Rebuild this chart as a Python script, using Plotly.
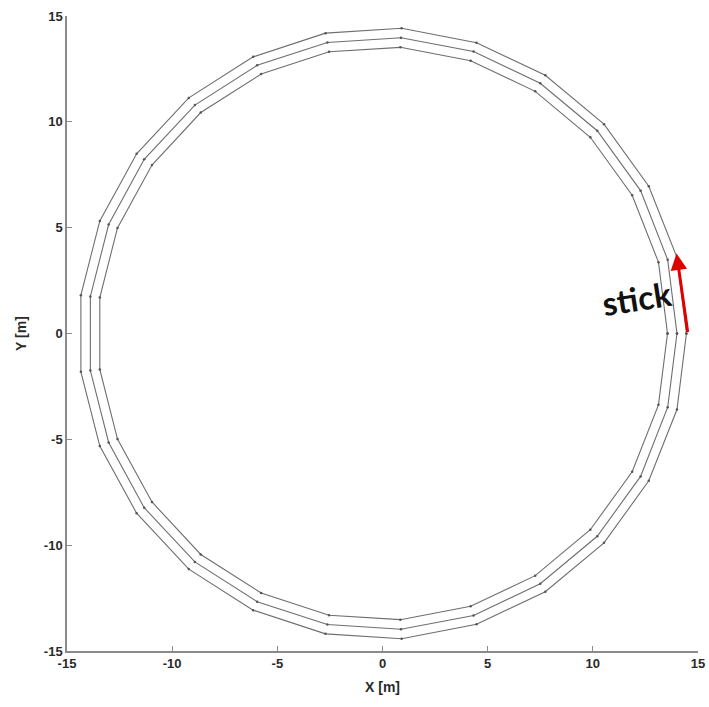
import plotly.graph_objects as go

# Track outline: 25-vertex rings (inner edge, centre line, outer edge), closed
inner_x = [13.55, 13.12, 11.87, 9.88, 7.26, 4.19, 0.85, -2.54, -5.77, -8.64, -10.96, -12.60, -13.44,
           -13.44, -12.60, -10.96, -8.64, -5.77, -2.54, 0.85, 4.19, 7.26, 9.88, 11.87, 13.12, 13.55]
inner_y = [0.00, 3.37, 6.53, 9.27, 11.44, 12.89, 13.52, 13.31, 12.26, 10.44, 7.96, 4.99, 1.70,
           -1.70, -4.99, -7.96, -10.44, -12.26, -13.31, -13.52, -12.89, -11.44, -9.27, -6.53, -3.37, 0.00]

mid_x = [14.00, 13.56, 12.27, 10.21, 7.50, 4.33, 0.88, -2.62, -5.96, -8.92, -11.33, -13.02, -13.89,
         -13.89, -13.02, -11.33, -8.92, -5.96, -2.62, 0.88, 4.33, 7.50, 10.21, 12.27, 13.56, 14.00]
mid_y = [0.00, 3.48, 6.75, 9.58, 11.82, 13.32, 13.97, 13.75, 12.67, 10.79, 8.23, 5.15, 1.75,
         -1.75, -5.15, -8.23, -10.79, -12.67, -13.75, -13.97, -13.32, -11.82, -9.58, -6.75, -3.48, 0.00]

outer_x = [14.45, 14.00, 12.66, 10.53, 7.74, 4.47, 0.91, -2.71, -6.15, -9.21, -11.69, -13.44, -14.34,
           -14.34, -13.44, -11.69, -9.21, -6.15, -2.71, 0.91, 4.47, 7.74, 10.53, 12.66, 14.00, 14.45]
outer_y = [0.00, 3.59, 6.96, 9.89, 12.20, 13.74, 14.42, 14.19, 13.07, 11.13, 8.49, 5.32, 1.81,
           -1.81, -5.32, -8.49, -11.13, -13.07, -14.19, -14.42, -13.74, -12.20, -9.89, -6.96, -3.59, 0.00]

# Stick: tail and tip positions
stick_tail = (14.52, 0.0)
stick_tip = (13.98, 3.78)

tick_vals = [-15, -10, -5, 0, 5, 10, 15]
tick_text = ["-15", "-10", "-5", "0", "5", "10", "15"]

fig = go.Figure()
for xs, ys in [(inner_x, inner_y), (mid_x, mid_y), (outer_x, outer_y)]:
    fig.add_trace(go.Scatter(
        x=xs, y=ys, mode="lines+markers",
        line=dict(color="#6e6e6e", width=1.1),
        marker=dict(color="#555555", size=2.5),
        showlegend=False, hoverinfo="skip",
    ))

fig.add_annotation(
    x=stick_tip[0], y=stick_tip[1], ax=stick_tail[0], ay=stick_tail[1],
    xref="x", yref="y", axref="x", ayref="y",
    showarrow=True, arrowhead=2, arrowsize=1.1, arrowwidth=3,
    arrowcolor="#e00000", text="",
)
fig.add_annotation(
    x=12.1, y=1.7, xref="x", yref="y", text="stick", showarrow=False,
    textangle=-9,
    font=dict(family="Lato", size=33, color="#111111", weight="bold"),
)

axis_common = dict(
    range=[-15, 15], tickvals=tick_vals, ticktext=tick_text,
    showgrid=False, zeroline=False, showline=True,
    linecolor="#8a8a8a", linewidth=1.5,
    ticks="inside", ticklen=5, tickcolor="#8a8a8a", tickwidth=1,
    tickfont=dict(family="Liberation Sans", size=13, color="#2a2a2a", weight="bold"),
    mirror=False, automargin=False,
)

fig.update_layout(
    width=709, height=707,
    margin=dict(l=67, r=11, t=16, b=56),
    paper_bgcolor="white", plot_bgcolor="white",
    xaxis=dict(**axis_common,
               title=dict(text="X [m]", standoff=12,
                          font=dict(family="Liberation Sans", size=14, color="#2a2a2a", weight="bold"))),
    yaxis=dict(**axis_common,
               title=dict(text="Y [m]", standoff=14,
                          font=dict(family="Liberation Sans", size=14, color="#2a2a2a", weight="bold"))),
)

fig.write_html("out.html")
